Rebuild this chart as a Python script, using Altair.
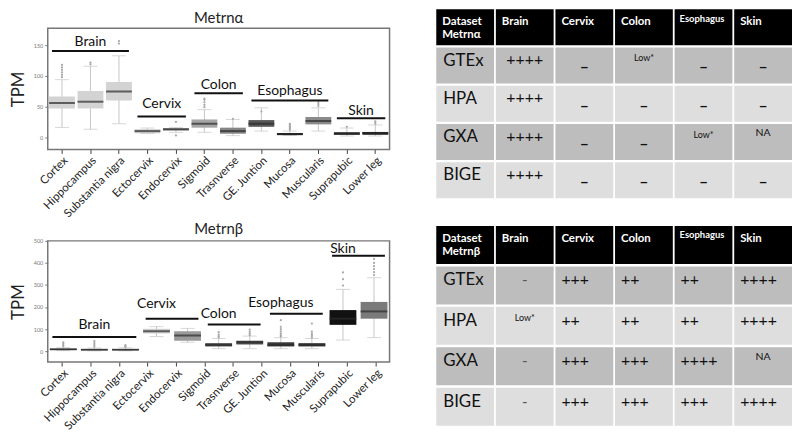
import altair as alt
import pandas as pd

FONT = "Lato"

# ---------------- Metrn alpha box plot ----------------
tissues = ["Cortex", "Hippocampus", "Substantia nigra", "Ectocervix", "Endocervix",
           "Sigmoid", "Trasnverse", "GE. Juntion", "Mucosa", "Muscularis",
           "Suprapubic", "Lower leg"]
a_low = [16, 13, 22, 6, 8, 8, 2.6, 10, 3, 10, 2, 2]
a_q1 = [47, 47, 60, 6.5, 11, 15.6, 5.7, 17, 3.6, 21, 4, 4]
a_med = [56, 58, 74.5, 10, 13, 22, 10, 22, 5, 26.5, 6, 7]
a_q3 = [66.7, 75.5, 90, 13, 14.5, 29, 15.6, 28, 7, 33, 8, 8.5]
a_high = [94, 116, 133, 15, 16, 45, 29, 48, 10, 48, 15, 20]
a_colors = ["#d3d3d3", "#d3d3d3", "#d3d3d3", "#cccccc", "#8e8e8e", "#a5a5a5",
            "#858585", "#585858", "#1c1c1c", "#8a8a8a", "#1c1c1c", "#1c1c1c"]
a_out_t = ["Cortex"] * 6 + ["Hippocampus"] * 2 + ["Substantia nigra"] * 2 + ["Endocervix"] * 2 \
    + ["Sigmoid"] * 5 + ["Trasnverse"] + ["GE. Juntion"] + ["Mucosa"] * 6 + ["Muscularis"] * 3 \
    + ["Suprapubic"] + ["Lower leg"] * 3
a_out_v = [98, 102, 106, 110, 114, 118, 119, 122, 153, 157, 3, 25,
           49, 53, 57, 61, 63, 30, 42, 12, 14, 16, 18, 20, 22, 51, 54, 57, 17, 22, 24, 26]
groups = ["Brain", "Cervix", "Colon", "Esophagus", "Skin"]
a_first = ["Cortex", "Ectocervix", "Sigmoid", "GE. Juntion", "Suprapubic"]
a_last = ["Substantia nigra", "Endocervix", "Trasnverse", "Muscularis", "Lower leg"]
a_line = [141, 34, 72, 60, 31]
a_label = [155, 54, 85, 76, 42]

# ---------------- Metrn beta box plot ----------------
b_boxes = ["Cortex", "Hippocampus", "Substantia nigra", "Ectocervix", "Endocervix",
           "Sigmoid", "Trasnverse", "Mucosa", "Muscularis", "Suprapubic", "Lower leg"]
b_low = [2, 1, 1, 66, 40, 11, 11, 11, 11, 50, 61]
b_q1 = [5, 4, 4, 80, 47, 21, 30, 21, 21, 119, 147]
b_med = [8, 6, 6, 90, 71, 28, 40, 28, 28, 147, 180]
b_q3 = [11, 9, 9, 101, 90, 36, 47, 40, 36, 186, 223]
b_high = [16, 14, 15, 111, 103, 57, 68, 61, 57, 280, 333]
b_colors = ["#4a4a4a", "#4a4a4a", "#4a4a4a", "#cdcdcd", "#9a9a9a", "#4d4d4d",
            "#4d4d4d", "#3a3a3a", "#3a3a3a", "#111111", "#7a7a7a"]
b_out_t = ["Cortex"] * 4 + ["Hippocampus"] * 4 + ["Substantia nigra"] * 3 + ["Sigmoid"] * 4 \
    + ["Trasnverse"] * 4 + ["Mucosa"] * 7 + ["Muscularis"] * 5 + ["Suprapubic"] * 3 + ["Lower leg"] * 6
b_out_v = [22, 28, 35, 40, 20, 28, 36, 45, 19, 23, 27, 62, 68, 75, 86, 72, 80, 88, 97,
           66, 72, 80, 90, 100, 110, 140, 62, 70, 78, 88, 125, 297, 326, 357,
           345, 358, 372, 385, 400, 418]
b_first = ["Cortex", "Ectocervix", "Sigmoid", "Mucosa", "Suprapubic"]
b_last = ["Substantia nigra", "Endocervix", "Trasnverse", "Muscularis", "Lower leg"]
b_line = [64, 147, 121, 169, 433]
b_label = [118, 212, 166, 220, 465]

# ---------------- tables ----------------
table_cols = ["Dataset", "Brain", "Cervix", "Colon", "Esophagus", "Skin"]
table_rows = ["GTEx", "HPA", "GXA", "BIGE"]
ta_brain = ["++++", "++++", "++++", "++++"]
ta_cervix = ["–", "–", "–", "–"]
ta_colon = ["Low*", "–", "–", "–"]
ta_esophagus = ["–", "–", "Low*", "–"]
ta_skin = ["–", "–", "NA", "–"]
tb_brain = ["-", "Low*", "-", "-"]
tb_cervix = ["+++", "++", "+++", "+++"]
tb_colon = ["++", "++", "+++", "+++"]
tb_esophagus = ["++", "++", "++++", "+++"]
tb_skin = ["++++", "++++", "NA", "++++"]

PLOT_W = 344
PLOT_H = 122


def box_chart(title, boxes, low, q1, med, q3, high, colors, out_t, out_v,
              g_first, g_last, g_line, g_label, y_domain, y_ticks, box_w, labels=None):
    df = pd.DataFrame({"t": boxes, "low": low, "q1": q1, "med": med, "q3": q3, "high": high})
    xs = alt.Scale(domain=boxes, paddingInner=0, paddingOuter=0)
    ys = alt.Scale(domain=y_domain, nice=False, zero=False)
    x_axis = alt.Axis(title=None, labelAngle=-45, labelFontSize=11.5, labelColor="#222",
                      labelFont=FONT, ticks=True, tickSize=4, tickColor="#444",
                      domain=False, labelPadding=1, orient="bottom")
    y_axis = alt.Axis(title="TPM", titleFontSize=17, titleFontWeight="normal", titleColor="#222",
                      titleFont=FONT, titlePadding=6, labelFontSize=5.5, labelColor="#777",
                      tickSize=3, tickColor="#777", values=y_ticks, domain=False, grid=False)
    own_axis = x_axis if labels is None else None

    def X(field, **kw):
        return alt.X(field, scale=xs, axis=own_axis, **kw)

    def Y(field):
        return alt.Y(field, scale=ys, axis=y_axis)

    base = alt.Chart(df)
    whisk = base.mark_rule(color="#c6c6c6", strokeWidth=1).encode(x=X("t:N"), y=Y("low:Q"), y2="high:Q")
    cap_lo = base.mark_tick(color="#c6c6c6", size=14, thickness=1).encode(x=X("t:N"), y=Y("low:Q"))
    cap_hi = base.mark_tick(color="#c6c6c6", size=14, thickness=1).encode(x=X("t:N"), y=Y("high:Q"))
    box = base.mark_bar(size=box_w).encode(
        x=X("t:N"), y=Y("q1:Q"), y2="q3:Q",
        color=alt.Color("t:N", scale=alt.Scale(domain=boxes, range=colors), legend=None))
    median = base.mark_tick(size=box_w, thickness=2, color="#2b2b2b").encode(x=X("t:N"), y=Y("med:Q"))
    outs = alt.Chart(pd.DataFrame({"t": out_t, "v": out_v})).mark_circle(
        size=5, color="#a8a8a8", opacity=1).encode(x=X("t:N"), y=Y("v:Q"))

    fi = [boxes.index(f) for f in g_first]
    la = [boxes.index(l) for l in g_last]
    gdf = pd.DataFrame({"g": groups, "first": g_first, "last": g_last, "line": g_line,
                        "label": g_label,
                        "mid": [boxes[(f + l) // 2] for f, l in zip(fi, la)],
                        "even": [(l - f) % 2 == 1 for f, l in zip(fi, la)]})
    gbase = alt.Chart(gdf)
    glines = gbase.mark_rule(color="#111", strokeWidth=2).encode(
        x=X("first:N", bandPosition=0.15), x2=alt.X2("last:N", bandPosition=0.85), y=Y("line:Q"))
    gtext_odd = gbase.transform_filter("!datum.even").mark_text(
        fontSize=14, color="#111", baseline="middle", font=FONT).encode(
        x=X("mid:N", bandPosition=0.5), y=Y("label:Q"), text="g:N")
    gtext_even = gbase.transform_filter("datum.even").mark_text(
        fontSize=14, color="#111", baseline="middle", font=FONT).encode(
        x=X("mid:N", bandPosition=1.0), y=Y("label:Q"), text="g:N")

    layers = [whisk, cap_lo, cap_hi, box, median, outs, glines, gtext_odd, gtext_even]
    if labels is not None:
        lab = alt.Chart(pd.DataFrame({"lab": labels})).mark_point(opacity=0, size=0, strokeWidth=0).encode(
            x=alt.X("lab:N", scale=alt.Scale(domain=labels, paddingInner=0, paddingOuter=0), axis=x_axis),
            y=alt.value(0))
        ch = alt.layer(lab, *layers).resolve_scale(x="independent")
    else:
        ch = alt.layer(*layers)
    return ch.properties(
        width=PLOT_W, height=PLOT_H,
        title=alt.TitleParams(title, fontSize=15, fontWeight="normal", color="#222",
                              font=FONT, offset=2, anchor="middle"))


def kind_of(s):
    if s.startswith("+"):
        return "plus"
    if s in ("–", "-"):
        return "dash"
    if s.startswith("Low"):
        return "low"
    return "na"


def table_chart(header_first, values, plus_center, dash_bold, width, height):
    rowkeys = ["hdr"] + table_rows
    xs = alt.Scale(domain=table_cols, paddingInner=0.03, paddingOuter=0)
    ys = alt.Scale(domain=rowkeys, paddingInner=0.06, paddingOuter=0)
    cells = pd.DataFrame([(r, c) for r in rowkeys for c in table_cols], columns=["row", "col"])
    rects = alt.Chart(cells).mark_rect().encode(
        x=alt.X("col:N", scale=xs, axis=None), y=alt.Y("row:N", scale=ys, axis=None),
        color=alt.Color("row:N", scale=alt.Scale(
            domain=rowkeys, range=["#000000", "#bdbdbd", "#dedede", "#bdbdbd", "#dedede"]), legend=None))

    hdr = pd.DataFrame({"col": table_cols, "row": "hdr",
                        "txt": [header_first, "Brain", "Cervix", "Colon", "Esophagus", "Skin"]})
    hbase = alt.Chart(hdr)
    htext = hbase.transform_filter("datum.col != 'Esophagus'").mark_text(
        align="left", baseline="top", dx=6, fontSize=11.5, fontWeight="bold", color="white",
        font=FONT, lineBreak="\n", lineHeight=13).encode(
        x=alt.X("col:N", scale=xs, axis=None, bandPosition=0),
        y=alt.Y("row:N", scale=ys, axis=None, bandPosition=0.18), text="txt:N")
    htext2 = hbase.transform_filter("datum.col == 'Esophagus'").mark_text(
        align="left", baseline="top", dx=5, fontSize=9.5, fontWeight="bold", color="white",
        font=FONT).encode(
        x=alt.X("col:N", scale=xs, axis=None, bandPosition=0),
        y=alt.Y("row:N", scale=ys, axis=None, bandPosition=0.12), text="txt:N")

    rl = alt.Chart(pd.DataFrame({"row": table_rows, "col": "Dataset"})).mark_text(
        align="left", baseline="middle", dx=7, fontSize=17, color="#111", font=FONT).encode(
        x=alt.X("col:N", scale=xs, axis=None, bandPosition=0),
        y=alt.Y("row:N", scale=ys, axis=None, bandPosition=0.37), text="row:N")

    recs = []
    for c, vals in zip(table_cols[1:], values):
        for r, v in zip(table_rows, vals):
            recs.append({"row": r, "col": c, "txt": v, "kind": kind_of(v)})
    vdf = pd.DataFrame(recs)
    vb = alt.Chart(vdf)

    def XY(bx, by):
        return dict(x=alt.X("col:N", scale=xs, axis=None, bandPosition=bx),
                    y=alt.Y("row:N", scale=ys, axis=None, bandPosition=by))

    if plus_center:
        plus = vb.transform_filter("datum.kind == 'plus'").mark_text(
            align="center", baseline="middle", fontSize=16, color="#111", font=FONT).encode(
            **XY(0.5, 0.35), text="txt:N")
    else:
        plus = vb.transform_filter("datum.kind == 'plus'").mark_text(
            align="left", baseline="middle", dx=6, fontSize=16, color="#111", font=FONT).encode(
            **XY(0, 0.37), text="txt:N")
    if dash_bold:
        dash = vb.transform_filter("datum.kind == 'dash'").mark_text(
            align="center", baseline="middle", fontSize=16, fontWeight="bold", color="#111",
            font=FONT).encode(**XY(0.5, 0.55), text="txt:N")
    else:
        dash = vb.transform_filter("datum.kind == 'dash'").mark_text(
            align="center", baseline="middle", fontSize=15, color="#555", font=FONT).encode(
            **XY(0.5, 0.37), text="txt:N")
    low = vb.transform_filter("datum.kind == 'low'").mark_text(
        align="center", baseline="middle", fontSize=9, color="#111", font=FONT).encode(
        **XY(0.5, 0.3), text="txt:N")
    na = vb.transform_filter("datum.kind == 'na'").mark_text(
        align="center", baseline="middle", fontSize=10.5, color="#111", font=FONT).encode(
        **XY(0.5, 0.25), text="txt:N")
    return alt.layer(rects, htext, htext2, rl, plus, dash, low, na).properties(
        width=width, height=height, view=alt.ViewBackground(stroke=None))


chart_a = box_chart("Metrnα", tissues, a_low, a_q1, a_med, a_q3, a_high, a_colors,
                    a_out_t, a_out_v, a_first, a_last, a_line, a_label,
                    [-20, 178], [0, 50, 100, 150], 26)
chart_b = box_chart("Metrnβ", b_boxes, b_low, b_q1, b_med, b_q3, b_high, b_colors,
                    b_out_t, b_out_v, b_first, b_last, b_line, b_label,
                    [-50, 500], [0, 100, 200, 300, 400, 500], 27, labels=tissues)

# 1px first row so that the first plot's title is laid out inside the column
spacer = alt.Chart(pd.DataFrame({"v": [0]})).mark_point(opacity=0, size=0, strokeWidth=0).encode(
    x=alt.value(0), y=alt.value(0)).properties(
    width=PLOT_W, height=1, view=alt.ViewBackground(stroke=None))

table_a = table_chart("Dataset\nMetrnα",
                      [ta_brain, ta_cervix, ta_colon, ta_esophagus, ta_skin],
                      True, True, 358, 190)
table_b = table_chart("Dataset\nMetrnβ",
                      [tb_brain, tb_cervix, tb_colon, tb_esophagus, tb_skin],
                      False, False, 358, 201)

left = alt.vconcat(spacer, chart_a, chart_b, spacing=0).resolve_scale(color="independent")
right = alt.vconcat(table_a, table_b, spacing=28).resolve_scale(color="independent")
chart = alt.concat(left, right, columns=2, spacing=46).resolve_scale(color="independent").properties(
    align="none", padding=0).configure(font=FONT).configure_view(
    stroke="#777", strokeWidth=1.5).configure_axis(grid=False)

chart.save("out.html", embed_options={"renderer": "svg", "actions": False})
